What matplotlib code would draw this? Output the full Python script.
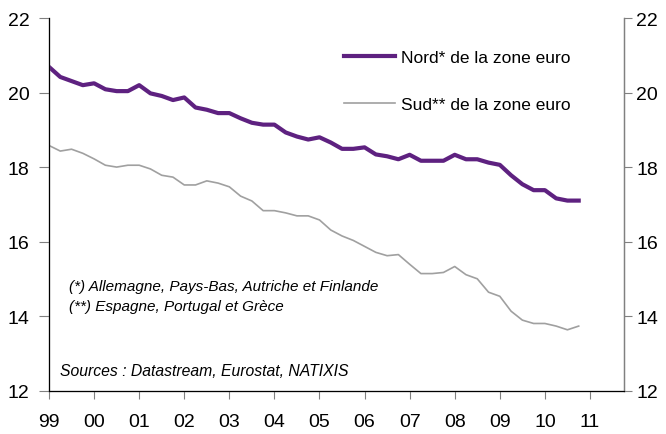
import matplotlib
matplotlib.use("Agg")
import matplotlib.pyplot as plt
import numpy as np

plt.rcParams["font.family"] = ["Liberation Sans", "DejaVu Sans"]

# quarterly data, 1999Q1 .. 2010Q4
start_year = 1999
nord = [20.69, 20.42, 20.31, 20.20, 20.25, 20.09, 20.04, 20.04, 20.20, 19.98,
        19.91, 19.80, 19.87, 19.60, 19.54, 19.45, 19.45, 19.31, 19.19, 19.14,
        19.14, 18.93, 18.82, 18.74, 18.80, 18.66, 18.49, 18.49, 18.53, 18.34,
        18.29, 18.21, 18.33, 18.17, 18.17, 18.17, 18.33, 18.21, 18.21, 18.12,
        18.06, 17.78, 17.54, 17.38, 17.38, 17.16, 17.10, 17.10]
sud = [18.58, 18.43, 18.48, 18.37, 18.22, 18.05, 18.00, 18.05, 18.05, 17.95,
       17.78, 17.73, 17.52, 17.52, 17.63, 17.57, 17.47, 17.22, 17.09, 16.83,
       16.83, 16.77, 16.69, 16.69, 16.58, 16.31, 16.15, 16.03, 15.87, 15.71,
       15.62, 15.65, 15.39, 15.14, 15.14, 15.17, 15.33, 15.11, 15.00, 14.64,
       14.53, 14.13, 13.89, 13.80, 13.80, 13.73, 13.63, 13.73]
year_ticks = list(range(1999, 2012))
year_labels = ["99", "00", "01", "02", "03", "04", "05", "06", "07", "08", "09", "10", "11"]
y_ticks = [12, 14, 16, 18, 20, 22]

label_nord = "Nord* de la zone euro"
label_sud = "Sud** de la zone euro"
note_1 = "(*) Allemagne, Pays-Bas, Autriche et Finlande"
note_2 = "(**) Espagne, Portugal et Grèce"
source = "Sources : Datastream, Eurostat, NATIXIS"

t = start_year + np.arange(len(nord)) / 4

fig = plt.figure(figsize=(6.66, 4.35), dpi=100)
ax = fig.add_axes([0.0736, 0.100, 0.863, 0.856])

ax.plot(t, nord, color="#5E2180", lw=3.0, solid_joinstyle="round", label=label_nord)
ax.plot(t, sud, color="#A0A0A0", lw=1.2, label=label_sud)

ax.set_xlim(1999, 2011.75)
ax.set_ylim(12, 22)
ax.set_xticks(year_ticks)
ax.set_xticklabels(year_labels)
ax.set_yticks(y_ticks)

grey = "#808080"
for side in ["left", "right", "bottom"]:
    ax.spines[side].set_color(grey)
    ax.spines[side].set_linewidth(1.0)
ax.spines["top"].set_visible(False)

ax.tick_params(axis="x", direction="out", length=6, color=grey, labelsize=14, pad=10)
ax.tick_params(axis="y", direction="out", length=7, color=grey, labelsize=14, pad=7)

# right axis, same scale, tighter label pad
ax2 = ax.twinx()
ax2.set_ylim(ax.get_ylim())
ax2.set_yticks(y_ticks)
ax2.spines["top"].set_visible(False)
ax2.spines["right"].set_color(grey)
ax2.tick_params(axis="y", direction="out", length=6, color=grey, labelsize=14, pad=3)

ax.legend(loc="upper left", bbox_to_anchor=(0.514, 0.914), frameon=False,
          fontsize=12.5, handlelength=2.9, handletextpad=0.35,
          labelspacing=1.8, borderpad=0, borderaxespad=0)

ax.text(0.034, 0.281, note_1, transform=ax.transAxes, fontsize=11, style="italic",
        va="center", ha="left")
ax.text(0.034, 0.227, note_2, transform=ax.transAxes, fontsize=11, style="italic",
        va="center", ha="left")
ax.text(0.019, 0.055, source, transform=ax.transAxes, fontsize=11.3, style="italic",
        va="center", ha="left")

fig.savefig("out.png", dpi=100)
